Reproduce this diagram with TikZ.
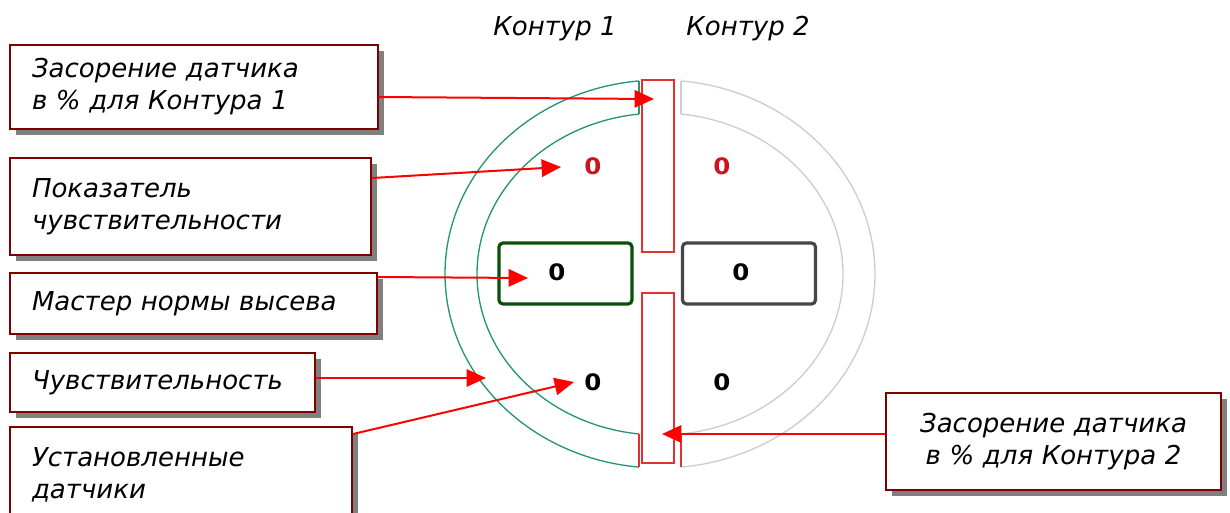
\documentclass[tikz,border=0pt]{standalone}
\usepackage{fontspec}
\setmainfont{DejaVu Sans}
\usetikzlibrary{arrows.meta,shadows}
\definecolor{boxred}{RGB}{128,0,0}
\definecolor{arcgreen}{RGB}{35,150,115}
\definecolor{arcgray}{RGB}{205,205,205}
\definecolor{rectred}{RGB}{225,50,50}
\definecolor{btngreen}{RGB}{10,80,10}
\definecolor{btngray}{RGB}{70,70,70}
\definecolor{zerored}{RGB}{205,20,30}
\begin{document}
\begin{tikzpicture}[x=0.75pt,y=-0.75pt,
  lbl/.style={draw=boxred, line width=1.5pt, fill=white,
    drop shadow={shadow xshift=4.5pt,shadow yshift=-4.5pt,fill=black!50,opacity=1},
    font=\fontsize{19.5pt}{24pt}\selectfont\itshape,
    inner xsep=16.5pt, inner ysep=0pt, align=left},
  ttl/.style={font=\fontsize{19.5pt}{24pt}\selectfont\itshape, anchor=base, inner sep=0pt},
  arr/.style={draw=red, line width=1.5pt, -{Triangle[length=14.5pt,width=13pt]}},
  sensor/.style={draw=rectred, line width=1.1pt, fill=white, minimum width=24pt, inner sep=0pt},
  btn/.style={line width=2.4pt, rounded corners=3pt, fill=white, minimum width=99.75pt, minimum height=45.75pt, inner sep=0pt},
  zero/.style={font=\fontsize{17pt}{18pt}\selectfont\bfseries, inner sep=0pt, transform shape, xscale=1.08},
]
\useasboundingbox (0,0) rectangle (1230,512);

% titles
\node[ttl] (k1) at (555,35) {Контур 1};
\node[ttl] (k2) at (748,35) {Контур 2};

% ring arcs
\begin{scope}
  \clip (0,0) rectangle (639,512);
  \draw[arcgreen, line width=1pt] (660,274) ellipse [x radius=215, y radius=194];
  \draw[arcgreen, line width=1pt] (660,274) ellipse [x radius=183, y radius=161];
\end{scope}
\begin{scope}
  \clip (681,0) rectangle (1230,512);
  \draw[arcgray, line width=1pt] (660,274) ellipse [x radius=215, y radius=194];
  \draw[arcgray, line width=1pt] (660,274) ellipse [x radius=183, y radius=161];
\end{scope}
\draw[arcgreen, line width=1pt] (639,81) -- (639,114);
\draw[arcgray, line width=1pt] (681,81) -- (681,114);
\draw[rectred, line width=1pt] (639,434) -- (639,467);
\draw[rectred, line width=1pt] (681,434) -- (681,467);

% sensor bars
\node[sensor, minimum height=129pt] (s1) at (658,166) {};
\node[sensor, minimum height=127.5pt] (s2) at (658,378) {};

% buttons
\node[btn, draw=btngreen] (m1) at (565.5,273.5) {};
\node[btn, draw=btngray] (m2) at (749,273.5) {};

% values
\node[zero, text=zerored] (z1) at (593,166) {0};
\node[zero, text=zerored] (z2) at (722,166) {0};
\node[zero] (z3) at (557,272) {0};
\node[zero] (z4) at (741,272) {0};
\node[zero] (z5) at (593,382) {0};
\node[zero] (z6) at (722,382) {0};

% label boxes
\node[lbl, minimum width=276pt, minimum height=63pt, text width=243pt] (b1) at (194,87) {Засорение датчика\\в \% для Контура 1};
\node[lbl, minimum width=270.75pt, minimum height=72.75pt, text width=237.75pt] (b2) at (190.5,206.5) {Показатель\\чувствительности};
\node[lbl, minimum width=275.25pt, minimum height=45.75pt, text width=242.25pt] (b3) at (193.5,303.5) {Мастер нормы высева};
\node[lbl, minimum width=228.75pt, minimum height=44.25pt, text width=195.75pt] (b4) at (162.5,382.5) {Чувствительность};
\node[lbl, minimum width=256.5pt, minimum height=71.25pt, text width=223.5pt] (b5) at (181,474.5) {Установленные\\датчики};
\node[lbl, align=center, minimum width=251.25pt, minimum height=72.75pt, text width=218.25pt] (b6) at (1053.5,441.5) {Засорение датчика\\в \% для Контура 2};

% arrow targets
\coordinate (t1) at (654,99);
\coordinate (t2) at (561,167);
\coordinate (t3) at (528,278);
\coordinate (t4) at (486,378);
\coordinate (t5) at (574,382);
\coordinate (t6) at (662,434);

\draw[arr] (b1.east |- 0,97) -- (t1);
\draw[arr] (b2.east |- 0,178) -- (t2);
\draw[arr] (b3.east |- 0,277) -- (t3);
\draw[arr] (b4.east |- 0,378) -- (t4);
\draw[arr] (b5.east |- 0,434) -- (t5);
\draw[arr] (b6.west |- 0,434) -- (t6);
\end{tikzpicture}
\end{document}
